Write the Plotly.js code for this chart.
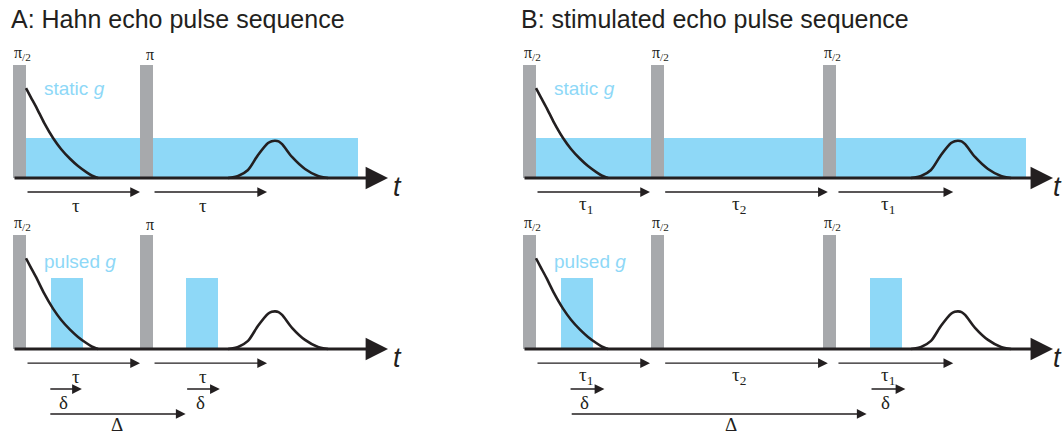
<!DOCTYPE html>
<html><head><meta charset="utf-8">
<script src="https://cdn.plot.ly/plotly-3.0.1.min.js"></script>
<style>html,body{margin:0;padding:0;background:#fff}#chart{width:1064px;height:436px}</style>
</head><body><div id="chart"></div>
<script>
// ---- diagram data (time in units of tau, amplitude in units of RF pulse height) ----
const rfPulseWidth = 0.114;
const hahnPulseStarts = [-0.114, 1.0];
const hahnPulseLabels = ["π<sub>/2</sub>", "π"];
const stimPulseStarts = [-0.114, 1.01, 2.52];
const stimPulseLabels = ["π<sub>/2</sub>", "π<sub>/2</sub>", "π<sub>/2</sub>"];

const staticGradA = [0, 2.91];
const staticGradB = [0, 4.30];
const staticGradHeight = 0.354;

const pulsedGradStartsA = [0.22, 1.40];
const pulsedGradStartsB = [0.22, 2.93];
const pulsedGradWidth = 0.28;
const pulsedGradHeight = 0.62;

const fidT = [0, 0.044, 0.094, 0.158, 0.237, 0.307, 0.386, 0.456, 0.532, 0.58, 0.632];
const fidY = [0.796, 0.712, 0.619, 0.490, 0.354, 0.257, 0.170, 0.106, 0.050, 0.020, 0];

const echoT_A = [1.772, 1.86, 1.947, 2.035, 2.123, 2.155, 2.184, 2.215, 2.246, 2.333, 2.447, 2.561, 2.649];
const echoT_B = [3.29, 3.378, 3.465, 3.553, 3.641, 3.673, 3.702, 3.733, 3.764, 3.851, 3.965, 4.079, 4.167];
const echoY   = [0, 0.018, 0.071, 0.204, 0.31, 0.326, 0.33, 0.324, 0.30, 0.186, 0.080, 0.018, 0];

const timeAxisA = [-0.114, 3.175];
const timeAxisB = [-0.114, 4.535];

// interval arrows: [start, end]
const tauArrowsA = [[0, 1.0], [1.114, 2.114]];
const tauLabelsA = ["τ", "τ"];
const tauArrowsB = [[0, 1.0], [1.12, 2.56], [2.64, 3.66]];
const tauLabelsB = ["τ<sub>1</sub>", "τ<sub>2</sub>", "τ<sub>1</sub>"];
const deltaArrowsA = [[0.20, 0.49], [1.40, 1.70]];
const deltaArrowsB = [[0.29, 0.60], [2.93, 3.24]];
const bigDeltaA = [0.20, 1.40];
const bigDeltaB = [0.30, 2.90];
const bigDeltaLabelA = 0.80;
const bigDeltaLabelB = 1.71;

const titleA = "A: Hahn echo pulse sequence";
const titleB = "B: stimulated echo pulse sequence";
const staticLabel = "static <i>g</i>";
const pulsedLabel = "pulsed <i>g</i>";

// ---- styles ----
const GRAY = "#a7a9ac", BLUE = "#8ed8f7", INK = "#231f20";
const SANS = "Liberation Sans, Arial, sans-serif";
const SERIF = "Liberation Serif, Times New Roman, serif";

const traces = [];
const annotations = [];

function bars(xa, ya, starts, widths, heights, color) {
  traces.push({
    type: "bar", xaxis: xa, yaxis: ya,
    x: starts.map((s, i) => s + widths[i] / 2),
    width: widths, y: heights, base: 0,
    marker: {color: color, line: {width: 0}},
    hoverinfo: "skip"
  });
}
function curve(xa, ya, t, y, smooth) {
  traces.push({
    type: "scatter", mode: "lines", xaxis: xa, yaxis: ya, x: t, y: y,
    line: {color: INK, width: 2.6, shape: "spline", smoothing: smooth},
    hoverinfo: "skip"
  });
}
function arrow(xa, ya, from, to, yv, big) {
  annotations.push({
    xref: xa, yref: ya, axref: xa, ayref: ya,
    x: to, y: yv, ax: from, ay: yv, text: "", showarrow: true,
    arrowhead: 2, arrowsize: big ? 1.4 : 1.5, arrowwidth: big ? 3.2 : 1.3,
    arrowcolor: INK, standoff: 0, startstandoff: 0
  });
}
function label(xa, ya, x, y, text, font, xanchor, yanchor, xshift) {
  annotations.push({
    xref: xa, yref: ya, x: x, y: y, text: text, showarrow: false,
    xanchor: xanchor || "center", yanchor: yanchor || "middle",
    xshift: xshift || 0, font: font
  });
}

const ARROW_Y1 = -0.124, ARROW_Y2 = -0.351, ARROW_Y3 = -0.570;
const LBL_TAU = -0.24, LBL_D = -0.47, LBL_BD = -0.665;
const serifFont = {family: SERIF, size: 19, color: INK};
const piFont = {family: SERIF, size: 16, color: INK};
const gFont = {family: SANS, size: 19, color: BLUE};

function panel(xa, yTop, yBot, pulseStarts, pulseLabels, staticG, pulsedStarts,
               echoT, axisRange, tauArrows, tauLabels, deltaArrows, bigDelta, bigDeltaLabel, tShift) {
  const w = pulseStarts.map(() => rfPulseWidth);
  // top: static gradient
  bars(xa, yTop, [staticG[0]], [staticG[1] - staticG[0]], [staticGradHeight], BLUE);
  bars(xa, yTop, pulseStarts, w, pulseStarts.map(() => 1), GRAY);
  curve(xa, yTop, fidT, fidY, 0.5);
  curve(xa, yTop, echoT, echoY, 0.8);
  // bottom: pulsed gradient
  bars(xa, yBot, pulsedStarts, pulsedStarts.map(() => pulsedGradWidth),
       pulsedStarts.map(() => pulsedGradHeight), BLUE);
  bars(xa, yBot, pulseStarts, w, pulseStarts.map(() => 1), GRAY);
  curve(xa, yBot, fidT, fidY, 0.5);
  curve(xa, yBot, echoT, echoY, 0.8);

  [yTop, yBot].forEach(ya => {
    arrow(xa, ya, axisRange[0], axisRange[1], 0, true);
    label(xa, ya, axisRange[1] + 0.03, -0.08, "<i>t</i>", {family: SANS, size: 27, color: INK}, "left", "middle", tShift);
    pulseStarts.forEach((s, i) =>
      label(xa, ya, s + rfPulseWidth / 2, 1.0, pulseLabels[i], piFont, "center", "bottom", 3));
    tauArrows.forEach((a, i) => {
      arrow(xa, ya, a[0], a[1], ARROW_Y1, false);
      label(xa, ya, (a[0] + a[1]) / 2 - 0.06, LBL_TAU, tauLabels[i], serifFont);
    });
  });
  label(xa, yTop, 0.14, 0.79, staticLabel, gFont, "left", "middle");
  label(xa, yBot, 0.14, 0.77, pulsedLabel, gFont, "left", "middle");
  deltaArrows.forEach(a => {
    arrow(xa, yBot, a[0], a[1], ARROW_Y2, false);
    label(xa, yBot, (a[0] + a[1]) / 2 - 0.02, LBL_D, "δ", serifFont);
  });
  arrow(xa, yBot, bigDelta[0], bigDelta[1], ARROW_Y3, false);
  label(xa, yBot, bigDeltaLabel, LBL_BD, "Δ", serifFont);
}

panel("x", "y", "y2", hahnPulseStarts, hahnPulseLabels, staticGradA, pulsedGradStartsA,
      echoT_A, timeAxisA, tauArrowsA, tauLabelsA, deltaArrowsA, bigDeltaA, bigDeltaLabelA, 0);
panel("x2", "y3", "y4", stimPulseStarts, stimPulseLabels, staticGradB, pulsedGradStartsB,
      echoT_B, timeAxisB, tauArrowsB, tauLabelsB, deltaArrowsB, bigDeltaB, bigDeltaLabelB, -5);

const titleFont = {family: SANS, size: 25, color: INK};
annotations.push({xref: "paper", yref: "paper", x: 9 / 1064, y: 1 - 19 / 436, text: titleA,
  showarrow: false, xanchor: "left", yanchor: "middle", font: titleFont});
annotations.push({xref: "paper", yref: "paper", x: 519 / 1064, y: 1 - 19 / 436, text: titleB,
  showarrow: false, xanchor: "left", yanchor: "middle", font: titleFont});

const hid = {visible: false, fixedrange: true};
const layout = {
  width: 1064, height: 436,
  margin: {l: 0, r: 0, t: 0, b: 0, pad: 0},
  paper_bgcolor: "#ffffff", plot_bgcolor: "rgba(0,0,0,0)",
  showlegend: false, barmode: "overlay", bargap: 0,
  xaxis:  Object.assign({domain: [0, 0.48], range: [-0.2281, 4.2511], anchor: "y"}, hid),
  xaxis2: Object.assign({domain: [0.48, 1], range: [-0.2218, 4.6316], anchor: "y3"}, hid),
  yaxis:  Object.assign({domain: [0.5, 1], range: [-0.354, 1.5752], anchor: "x"}, hid),
  yaxis2: Object.assign({domain: [0, 0.5], range: [-0.7632, 1.1491], anchor: "x"}, hid),
  yaxis3: Object.assign({domain: [0.5, 1], range: [-0.354, 1.5752], anchor: "x2"}, hid),
  yaxis4: Object.assign({domain: [0, 0.5], range: [-0.7632, 1.1491], anchor: "x2"}, hid),
  annotations: annotations
};
Plotly.newPlot("chart", traces, layout, {staticPlot: true, displayModeBar: false});
</script></body></html>
